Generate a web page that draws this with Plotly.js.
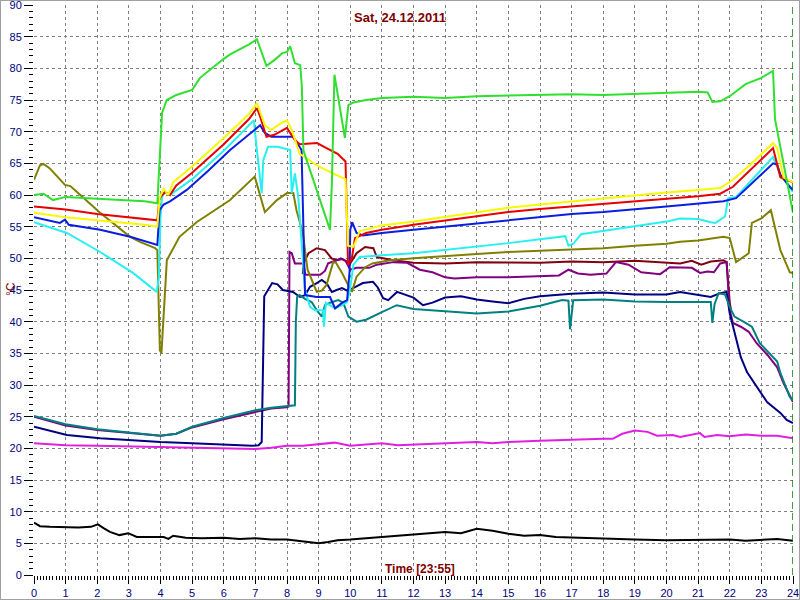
<!DOCTYPE html>
<html>
<head>
<meta charset="utf-8">
<script src="https://cdn.plot.ly/plotly-3.0.1.min.js"></script>
<style>
html,body{margin:0;padding:0;background:#fff;}
#chart{width:800px;height:600px;position:absolute;left:0;top:0;}
#frame{position:absolute;left:0;top:0;width:800px;height:600px;box-sizing:border-box;border:1px solid #a0a0a0;pointer-events:none;}
</style>
</head>
<body>
<div id="chart"></div>
<div id="frame"></div>
<script>
// ---- data (hours, °C) ----
const titleText = "Sat, 24.12.2011";
const xTitleText = "Time [23:55]";
const yTitleText = "°C";
const nowHour = [24];

const greenX = [0,0.3,0.6,1.0,2.0,3.0,3.5,3.9,3.97,4.05,4.2,4.5,5.0,5.25,6.0,6.2,6.8,7.05,7.2,7.35,7.6,7.85,8.0,8.1,8.25,8.42,8.47,8.52,9.36,9.42,9.5,9.83,9.94,10.1,10.5,11,12,13,14,15,16,17,18,19,20,21,21.3,21.45,21.7,22.0,22.5,23.0,23.37,23.43,24.0];
const greenY = [60.0,60.2,59.2,59.7,59.4,59.2,59.0,58.7,66,73.0,75.0,75.8,76.6,78.5,81.5,82.2,83.8,84.6,82.5,80.4,81.3,82.4,82.6,83.5,80.8,80.5,77,67,54.5,62,79,69,74.2,74.6,75.0,75.3,75.5,75.3,75.6,75.7,75.8,75.9,75.8,76.0,76.2,76.3,76.2,74.7,74.8,75.6,77.5,78.5,79.6,72,57.2];

const yellowX = [0,1,2,3,3.5,3.9,3.97,4.1,4.25,4.4,5,6,6.8,7.05,7.3,7.5,7.8,8.0,8.15,8.4,9.0,9.5,9.85,9.93,10.1,10.3,11,12,13,14,15,16,17,18,19,20,21,21.7,22.1,22.7,23.37,23.5,23.7,24];
const yellowY = [57.2,56.5,56.0,55.6,55.3,55.0,59.5,61.0,60.0,62.0,64.5,69.0,72.8,74.5,71.0,70.3,71.3,71.8,70.3,66.5,64.5,63.3,62.5,52.0,51.8,54.3,55.2,55.8,56.5,57.2,58.0,58.5,59.0,59.5,60.0,60.4,60.8,61.1,62.4,65.0,68.2,67.4,62.8,62.0];

const redX = [0,1,2,3,3.9,3.97,4.15,4.3,4.5,5,6,6.8,7.05,7.15,7.35,7.6,8.0,8.1,8.25,8.4,8.95,9.25,9.6,9.85,9.93,10.05,10.15,10.5,11,12,13,14,15,16,17,18,19,20,20.43,21,21.7,22.1,23.37,23.6,24];
const redY = [58.2,57.7,57.0,56.5,56.0,59.5,60.5,60.0,61.5,63.5,68.0,72.0,73.7,72.4,69.2,69.5,70.6,69.8,68.7,68.0,68.2,67.4,66.5,65.3,49.0,50.0,53.2,54.0,54.5,55.3,56.0,56.7,57.3,57.8,58.2,58.6,59.0,59.3,59.5,59.8,60.2,61.3,67.4,62.8,62.0];

const blueX = [0,0.5,0.82,0.98,1.1,2.09,3.04,3.9,3.97,4.1,4.3,4.83,5.5,6.2,7.15,7.3,7.5,8.19,8.46,8.57,8.94,9.36,9.52,9.75,9.9,9.98,10.0,10.06,10.2,10.4,11,12,13,14,15,16,17,18,19,20,20.43,21.06,21.8,22.2,23.37,23.5,23.6,23.9,24];
const blueY = [56.5,56.0,55.6,56.1,55.3,54.5,53.4,52.1,57.6,58.5,59.0,60.8,63.8,67.1,71.0,69.8,69.2,69.2,67.1,44.2,43.9,43.9,42.1,43.0,43.4,48.0,54.5,55.7,54.0,53.6,54.0,54.5,55.0,55.5,56.0,56.5,57.0,57.3,57.7,58.2,58.4,58.7,59.0,59.5,65.0,64.8,63.2,61.3,60.8];

const cyanX = [0,1.04,2.09,3.13,3.88,3.95,4.0,4.05,4.15,4.3,5,6,6.6,6.95,7.05,7.2,7.25,7.4,7.7,8.1,8.15,8.25,8.36,8.57,8.73,8.89,9.14,9.17,9.23,9.52,9.74,9.9,9.99,10.1,10.3,11,12,13,14,15,16,16.8,16.9,17.05,17.3,18,19,20,20.43,21.0,21.4,21.55,21.85,21.95,22.2,23.37,23.6,24];
const cyanY = [55.7,54.0,51.0,47.7,44.7,47.0,56.5,59.7,60.5,60.0,62.5,67.0,70.0,71.8,67.0,60.3,65.5,67.6,67.6,67.1,60.3,63.4,59.5,45.0,42.3,41.8,41.8,39.2,43.0,42.1,42.6,43.1,45.0,49.0,50.2,50.5,50.8,51.3,51.8,52.4,53.0,53.5,52.0,52.3,53.8,54.3,55.0,55.8,56.3,56.2,55.7,55.6,56.6,59.5,59.7,66.0,63.2,60.5];

const oliveX = [0,0.19,0.3,0.5,0.98,1.15,1.35,2.09,3.04,3.35,3.83,3.9,3.98,4.03,4.2,4.6,5.14,6.2,6.98,7.3,7.68,8.0,8.2,8.3,8.5,8.65,8.94,9.1,9.25,9.36,9.46,9.55,9.74,9.9,10.05,10.2,10.47,10.7,11.26,12,13,14,15,16,17,18,19,20,20.43,21,21.8,22.0,22.2,22.6,22.7,23.0,23.3,23.6,23.9,24];
const oliveY = [62.4,64.7,64.9,64.2,61.6,61.4,60.5,57.2,53.4,52.6,51.6,51.3,35.5,35.0,49.7,53.4,55.7,59.2,62.9,57.3,59.2,60.3,60.3,57.6,54.0,48.2,44.7,44.9,45.8,47.7,49.4,49.3,47.7,46.1,44.7,47.1,48.6,49.2,49.7,50.0,50.4,50.7,51.0,51.2,51.4,51.6,52.0,52.3,52.6,52.8,53.4,53.2,49.4,50.8,55.6,56.3,57.6,51.3,47.8,47.7];

const maroonX = [8.5,8.52,8.68,8.94,9.2,9.41,9.57,9.75,10.0,10.2,10.47,10.73,10.84,11.05,11.36,12,13,14,15,16,17,18,19,20,20.43,20.8,21.1,21.4,21.8,21.9,22.0,22.05];
const maroonY = [47.5,49.2,50.8,51.6,51.3,50.0,49.7,49.9,49.2,50.8,51.8,51.6,50.2,50.0,49.7,49.3,49.2,49.4,49.4,49.3,49.5,49.4,49.6,49.4,49.2,49.6,49.0,49.5,49.7,49.4,43.0,41.5];

const purpleX = [0,1,2,3,4,4.5,5,6,7,7.5,8.0,8.05,8.08,8.15,8.25,8.52,8.58,9.05,9.2,9.3,9.57,9.7,9.85,10.0,10.2,10.6,10.84,11.36,11.8,12.2,12.6,13.0,13.3,14,15,16,16.6,16.9,17.2,17.6,18.1,18.4,18.8,19.2,19.8,20.1,20.43,20.8,21.06,21.3,21.5,21.7,21.9,22.0,22.1,22.35,22.6,22.85,23.2,23.5,23.7,24];
const purpleY = [25.0,23.6,22.9,22.4,22.0,22.3,23.3,24.6,25.8,26.3,26.5,26.6,51.0,50.8,49.2,49.2,47.4,47.4,48.0,49.2,49.7,50.0,49.6,48.2,48.5,48.5,49.0,49.4,49.3,48.2,47.8,47.0,46.8,47.0,47.0,47.2,47.3,48.2,47.6,47.4,47.6,49.4,49.0,47.8,47.5,48.6,48.6,48.5,47.7,47.9,47.8,49.2,49.4,41.8,39.8,39.2,38.4,36.6,34.7,32.8,30.3,27.3];

const navyX = [0,1.04,2.09,3,4,5,6,6.9,7.1,7.2,7.28,7.36,7.53,7.7,7.87,8.19,8.41,8.57,8.73,8.94,9.1,9.26,9.42,9.57,9.74,9.9,10.09,10.4,10.72,10.87,11.04,11.2,11.48,12,12.3,12.6,13,13.5,14,14.5,15,15.5,16,17,18,19,20,20.43,21.06,21.4,21.7,21.9,22.0,22.1,22.35,22.55,22.85,23.18,23.6,23.8,24];
const navyY = [23.4,22.1,21.6,21.3,21.0,20.8,20.6,20.4,20.5,21.0,44.0,44.7,46.1,45.9,45.0,44.7,43.9,44.2,45.5,46.1,46.6,46.0,44.7,45.0,45.3,44.9,45.3,46.1,46.3,45.4,43.7,43.4,44.7,43.8,42.6,43.0,43.8,44.0,43.5,43.2,42.9,43.6,44.0,44.4,44.6,44.3,44.3,44.7,44.2,43.9,44.5,44.7,41.3,39.2,34.4,32.0,29.7,27.3,25.6,24.5,24.0];

const tealX = [0,1,2,3,4,4.5,5,6,7,7.5,8.0,8.25,8.28,8.32,8.4,8.57,8.78,8.94,9.1,9.2,9.36,9.62,9.78,9.94,10.2,10.5,11.0,11.47,12,13,14,15,16,16.7,16.9,16.95,17.05,18,19,20,20.43,21.4,21.45,21.52,21.65,21.85,22.0,22.15,22.5,22.7,22.95,23.5,23.6,23.9,24];
const tealY = [25.1,23.8,23.0,22.5,22.0,22.3,23.4,24.8,26.0,26.4,26.6,26.8,40.0,43.9,44.2,43.6,43.1,41.8,40.8,42.6,43.0,43.4,43.0,40.8,40.0,40.3,41.5,42.6,42.0,41.7,41.3,41.6,42.5,43.4,43.3,38.8,43.4,43.5,43.2,43.1,43.1,43.1,39.8,42.8,44.5,44.3,42.3,40.8,39.8,39.2,36.6,33.7,31.9,28.1,27.6];

const magentaX = [0,1,2,3,4,5,6,7,7.5,8,8.5,9,9.5,10,10.5,11,11.5,12,13,14,14.5,15,16,17,18,18.3,18.6,19.0,19.4,19.7,20.2,20.43,21.06,21.2,21.6,22.0,22.5,23.0,23.5,24];
const magentaY = [20.8,20.5,20.4,20.3,20.2,20.1,20.0,19.9,20.1,20.4,20.4,20.6,20.9,20.4,20.6,20.8,20.5,20.6,20.8,21.0,20.8,21.0,21.2,21.4,21.5,21.5,22.3,22.8,22.6,22.0,22.1,21.8,22.4,21.8,22.1,21.9,22.2,22.0,22.0,21.6];

const blackX = [0,0.19,0.5,1,1.4,1.8,2.02,2.2,2.4,2.7,2.98,3.25,3.7,4.1,4.25,4.4,4.8,5.3,6,6.5,7,7.5,8,8.5,9,9.3,9.6,10,10.5,11,11.5,12,12.5,13,13.5,14,14.5,15,15.5,16,16.5,17,17.5,18,19,20,21,22,22.5,23,23.5,24];
const blackY = [8.26,7.7,7.6,7.5,7.5,7.6,8.0,7.4,6.8,6.3,6.6,6.0,6.0,6.0,5.7,6.2,5.9,5.8,5.9,5.7,5.8,5.6,5.6,5.3,5.0,5.2,5.5,5.6,5.8,5.9,6.2,6.4,6.6,6.8,6.6,7.3,7.0,6.5,6.2,6.3,6.0,5.9,5.8,5.7,5.6,5.5,5.5,5.6,5.4,5.6,5.7,5.4];

// ---- build traces (drawn bottom to top) ----
const series = [
  {x: blackX,   y: blackY,   color: '#000000'},
  {x: magentaX, y: magentaY, color: '#e020e0'},
  {x: maroonX,  y: maroonY,  color: '#800010'},
  {x: purpleX,  y: purpleY,  color: '#800080'},
  {x: navyX,    y: navyY,    color: '#000080'},
  {x: tealX,    y: tealY,    color: '#008080'},
  {x: oliveX,   y: oliveY,   color: '#808000'},
  {x: cyanX,    y: cyanY,    color: '#28f0f0'},
  {x: blueX,    y: blueY,    color: '#0a1ee0'},
  {x: redX,     y: redY,     color: '#e80000'},
  {x: yellowX,  y: yellowY,  color: '#f8f800'},
  {x: greenX,   y: greenY,   color: '#30e030'}
];
const traces = series.map(s => ({
  type: 'scatter', mode: 'lines', x: s.x, y: s.y,
  line: {color: s.color, width: 2}, hoverinfo: 'skip'
}));

const tickFont = {family: 'Liberation Sans, Arial, sans-serif', size: 11, color: '#000080'};
const titleColor = '#800000';

const layout = {
  width: 800, height: 600,
  margin: {l: 34, r: 7, t: 5, b: 25},
  paper_bgcolor: '#ffffff', plot_bgcolor: '#ffffff',
  showlegend: false,
  title: {text: '<b>' + titleText + '</b>', font: {family: 'Liberation Sans, Arial, sans-serif', size: 13, color: titleColor},
          x: 0.5, xref: 'container', xanchor: 'center', y: 1 - 17/600, yref: 'container', yanchor: 'middle'},
  xaxis: {
    range: [0, 24], tick0: 0, dtick: 1, ticks: 'outside', ticklen: 8, tickwidth: 1, tickcolor: '#000000',
    tickfont: tickFont, ticklabeloverflow: 'allow', showgrid: true, gridcolor: '#808080', griddash: '3px,3px', gridwidth: 1,
    zeroline: false, showline: true, linecolor: '#ffffff', linewidth: 1, mirror: true, fixedrange: true,
    minor: {dtick: 0.1, ticks: 'outside', ticklen: 4, tickcolor: '#000000', showgrid: false}
  },
  yaxis: {
    range: [0, 90], tick0: 0, dtick: 5, ticks: 'outside', ticklen: 9, tickwidth: 1, tickcolor: '#000000',
    tickfont: tickFont, ticklabeloverflow: 'allow', showgrid: true, gridcolor: '#808080', griddash: '3px,3px', gridwidth: 1,
    zeroline: false, showline: true, linecolor: '#ffffff', linewidth: 1, mirror: true, fixedrange: true,
    minor: {dtick: 1, ticks: 'outside', ticklen: 4, tickcolor: '#000000', showgrid: false}
  },
  annotations: [
    {text: '<b>' + xTitleText + '</b>', xref: 'paper', yref: 'paper', x: (420-34)/759, y: (575-569)/570,
     xanchor: 'center', yanchor: 'middle', showarrow: false,
     font: {family: 'Liberation Sans, Arial, sans-serif', size: 12, color: titleColor}},
    {text: yTitleText, xref: 'paper', yref: 'paper', x: (11-34)/759, y: (575-289)/570, textangle: -90,
     xanchor: 'center', yanchor: 'middle', showarrow: false,
     font: {family: 'Liberation Sans, Arial, sans-serif', size: 12, color: titleColor}}
  ],
  shapes: nowHour.map(h => ({type: 'line', xref: 'x', yref: 'y', x0: h, x1: h, y0: 0, y1: 90,
    line: {color: '#008000', width: 1.5, dash: '7px,4px'}, layer: 'above'}))
};

Plotly.newPlot('chart', traces, layout, {staticPlot: true, displayModeBar: false});
</script>
</body>
</html>
